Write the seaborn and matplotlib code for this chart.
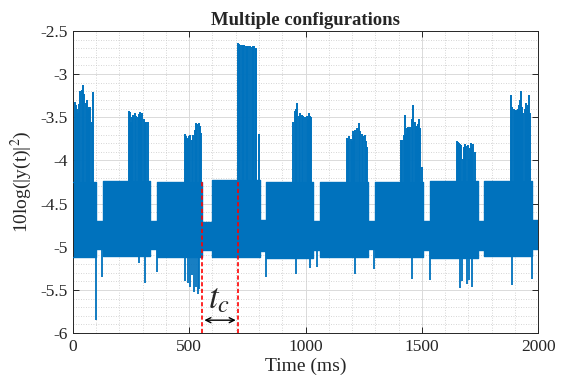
import numpy as np
import pandas as pd
import seaborn as sns
import matplotlib
matplotlib.use("Agg")
import matplotlib.pyplot as plt
from matplotlib.ticker import MultipleLocator, FuncFormatter

# configuration blocks (ms) and the limits of the dense band inside them
block_start = [0, 128, 363, 596, 832, 1063, 1297, 1536, 1769]
block_end = [100, 332, 555, 804, 1034, 1267, 1507, 1741, 1976]
block_top = [-4.25, -4.24, -4.25, -4.23, -4.25, -4.25, -4.25, -4.24, -4.24]
block_bottom = [-5.12, -5.11, -5.12, -5.12, -5.13, -5.12, -5.12, -5.13, -5.11]

# switching gaps after each block
gap_top = [-4.70, -4.70, -4.71, -4.69, -4.70, -4.70, -4.70, -4.70, -4.69]
gap_bottom = [-5.03, -5.03, -5.04, -5.05, -5.04, -5.03, -5.04, -5.04, -5.03]

# upward peaks (ms, dB)
up_t = [8, 12, 17, 22, 27, 31, 37, 43, 49, 54, 60, 63, 69, 74, 80, 86,
        242, 246, 251, 255, 260, 265, 272, 279, 284, 289, 293, 297, 305, 311, 316, 322,
        480, 485, 490, 494, 499, 504, 512, 518, 526, 530, 535, 540, 547, 552,
        711, 715, 719, 725, 730, 736, 742, 748, 754, 760, 768, 774, 780, 785, 789, 801,
        948, 953, 958, 963, 970, 977, 984, 991, 999, 1006, 1011, 1016, 1020, 1024,
        1178, 1183, 1188, 1194, 1199, 1206, 1210, 1214, 1221, 1228, 1235, 1242, 1248, 1254, 1259, 1264,
        1411, 1417, 1422, 1426, 1430, 1435, 1440, 1445, 1450, 1456, 1464, 1470, 1474, 1478, 1483, 1488, 1494, 1503,
        1651, 1655, 1658, 1663, 1668, 1677, 1682, 1687, 1692, 1697, 1704, 1708, 1712, 1717, 1722, 1727,
        1884, 1890, 1895, 1899, 1904, 1909, 1914, 1919, 1923, 1927, 1932, 1937, 1942, 1947, 1951, 1954, 1958, 1962, 1966]
up_v = [-3.32, -3.36, -3.40, -3.45, -3.35, -3.20, -3.18, -3.13, -3.23, -3.33, -3.30, -3.40, -3.38, -3.38, -3.55, -3.21,
        -3.43, -3.44, -3.55, -3.50, -3.47, -3.45, -3.48, -3.50, -3.46, -3.44, -3.47, -3.45, -3.52, -3.55, -3.56, -3.55,
        -3.69, -3.72, -3.74, -3.75, -3.72, -3.70, -3.76, -3.70, -3.65, -3.57, -3.58, -3.57, -3.60, -3.68,
        -2.64, -2.65, -2.66, -2.66, -2.67, -2.66, -2.67, -2.68, -2.67, -2.68, -2.69, -2.68, -2.67, -2.70, -2.71, -3.69,
        -3.55, -3.43, -3.40, -3.34, -3.48, -3.45, -3.47, -3.48, -3.50, -3.49, -3.52, -3.45, -3.48, -3.50,
        -3.74, -3.78, -3.72, -3.75, -3.77, -3.66, -3.70, -3.65, -3.62, -3.57, -3.66, -3.69, -3.72, -3.70, -3.78, -3.84,
        -3.76, -3.76, -3.70, -3.47, -3.69, -3.62, -3.61, -3.64, -3.61, -3.52, -3.36, -3.55, -3.60, -3.60, -3.58, -3.52, -3.62, -4.08,
        -3.78, -3.79, -3.80, -3.81, -3.82, -3.98, -3.85, -3.81, -3.83, -3.82, -3.98, -3.86, -3.80, -3.84, -3.81, -3.90,
        -3.24, -3.38, -3.40, -3.42, -3.43, -3.42, -3.40, -3.36, -3.30, -3.20, -3.38, -3.45, -3.40, -3.34, -3.38, -3.42, -3.36, -3.24, -3.45]

# downward dips (ms, dB)
down_t = [100, 127, 282, 311, 363, 483, 494, 505, 512, 522, 529, 537, 541,
          831, 960, 1021, 1049, 1214, 1296, 1457, 1536, 1665, 1675, 1693, 1703, 1715, 1887, 1976]
down_v = [-5.85, -5.35, -5.19, -5.42, -5.29, -5.40, -5.42, -5.46, -5.33, -5.52, -5.46, -5.55, -5.49,
          -5.35, -5.31, -5.25, -5.23, -5.31, -5.26, -5.37, -5.39, -5.48, -5.40, -5.43, -5.38, -5.46, -5.44, -5.37]

# t_c markers (ms)
tc_marks = [555, 711]

blue = "#0072BD"

sns.set_theme(style="ticks")
plt.rcParams["font.family"] = ["Liberation Serif", "DejaVu Serif"]
plt.rcParams["mathtext.fontset"] = "stix"
plt.rcParams["axes.unicode_minus"] = False

# envelope of the dense signal
edge_t, edge_hi, edge_lo = [], [], []
for i in range(len(block_start)):
    nxt = block_start[i + 1] if i + 1 < len(block_start) else 2000
    edge_t += [block_start[i], block_end[i], block_end[i], nxt]
    edge_hi += [block_top[i], block_top[i], gap_top[i], gap_top[i]]
    edge_lo += [block_bottom[i], block_bottom[i], gap_bottom[i], gap_bottom[i]]

env = pd.DataFrame({
    "t": edge_t + edge_t,
    "v": edge_hi + edge_lo,
    "edge": ["hi"] * len(edge_t) + ["lo"] * len(edge_t),
})

fig, ax = plt.subplots(figsize=(5.7, 3.91), dpi=100)
fig.subplots_adjust(left=0.128, right=0.944, bottom=0.148, top=0.921)

ax.fill_between(edge_t, edge_lo, edge_hi, color=blue, lw=0, zorder=2)
sns.lineplot(data=env, x="t", y="v", hue="edge", palette=[blue, blue],
             estimator=None, sort=False, legend=False, lw=1.0, ax=ax, zorder=3)
ax.vlines(up_t, -4.5, up_v, colors=blue, lw=1.4, zorder=3)
ax.vlines(down_t, -5.0, down_v, colors=blue, lw=1.3, zorder=3)

# t_c annotation
ax.vlines(tc_marks, -6, -4.25, colors="red", linestyles=(0, (2.5, 1.5)), lw=1.2, zorder=4)
ax.annotate("", xy=(tc_marks[0] + 10, -5.85), xytext=(tc_marks[1] - 11, -5.85),
            arrowprops=dict(arrowstyle="<->", color="black", lw=1.0,
                            shrinkA=0, shrinkB=0, mutation_scale=9))
ax.text(sum(tc_marks) / 2 - 4, -5.71, "$t_c$", fontsize=25, ha="center", va="baseline")

ax.set_xlim(0, 2000)
ax.set_ylim(-6, -2.5)
ax.xaxis.set_major_locator(MultipleLocator(500))
ax.xaxis.set_minor_locator(MultipleLocator(100))
ax.yaxis.set_major_locator(MultipleLocator(0.5))
ax.yaxis.set_minor_locator(MultipleLocator(0.1))
ax.yaxis.set_major_formatter(FuncFormatter(lambda v, p: "%g" % v))
ax.xaxis.set_major_formatter(FuncFormatter(lambda v, p: "%g" % v))

ax.grid(which="major", color="#dadada", ls="-", lw=0.7)
ax.grid(which="minor", color="#c8c8c8", ls=(0, (1, 2)), lw=0.6)
ax.set_axisbelow(True)
ax.tick_params(which="major", direction="in", top=True, right=True, length=4,
               width=0.7, labelsize=12.5, colors="#262626", pad=4)
ax.tick_params(which="minor", length=0)
for s in ax.spines.values():
    s.set_color("#262626")
    s.set_linewidth(0.7)

ax.set_title("Multiple configurations", fontsize=13.5, fontweight="bold", pad=4)
ax.set_xlabel("Time (ms)", fontsize=14, color="#262626", labelpad=2)
ax.set_ylabel("10log(|y(t)|$^2$)", fontsize=14, color="#262626", labelpad=4)

plt.savefig("out.png", dpi=100)
